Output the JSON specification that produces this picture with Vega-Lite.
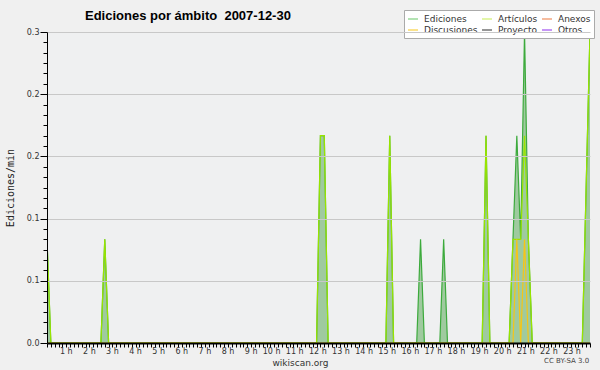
{
  "$schema": "https://vega.github.io/schema/vega-lite/v6.json",
  "width": 543,
  "height": 311,
  "autosize": {"type": "none"},
  "padding": {"left": 47, "top": 32, "right": 10, "bottom": 27},
  "background": "#f0f0f0",
  "config": {"view": {"stroke": null, "fill": "#eff0f1"}, "font": "DejaVu Sans"},
  "title": {
    "text": "Ediciones por ámbito\u00a0 2007-12-30",
    "anchor": "start",
    "frame": "group",
    "dx": 38,
    "dy": 23,
    "offset": 0,
    "baseline": "alphabetic",
    "font": "Liberation Sans",
    "fontSize": 13,
    "fontWeight": "bold",
    "color": "#000000"
  },
  "data": {
    "values": [
      {"m": 0, "s": "Ediciones", "v": 0.1}, {"m": 10, "s": "Ediciones", "v": 0},
      {"m": 140, "s": "Ediciones", "v": 0}, {"m": 150, "s": "Ediciones", "v": 0.1}, {"m": 160, "s": "Ediciones", "v": 0},
      {"m": 700, "s": "Ediciones", "v": 0}, {"m": 710, "s": "Ediciones", "v": 0.2}, {"m": 720, "s": "Ediciones", "v": 0.2}, {"m": 730, "s": "Ediciones", "v": 0},
      {"m": 880, "s": "Ediciones", "v": 0}, {"m": 890, "s": "Ediciones", "v": 0.2}, {"m": 900, "s": "Ediciones", "v": 0},
      {"m": 960, "s": "Ediciones", "v": 0}, {"m": 970, "s": "Ediciones", "v": 0.1}, {"m": 980, "s": "Ediciones", "v": 0},
      {"m": 1020, "s": "Ediciones", "v": 0}, {"m": 1030, "s": "Ediciones", "v": 0.1}, {"m": 1040, "s": "Ediciones", "v": 0},
      {"m": 1130, "s": "Ediciones", "v": 0}, {"m": 1140, "s": "Ediciones", "v": 0.2}, {"m": 1150, "s": "Ediciones", "v": 0},
      {"m": 1200, "s": "Ediciones", "v": 0}, {"m": 1210, "s": "Ediciones", "v": 0.1}, {"m": 1220, "s": "Ediciones", "v": 0.2}, {"m": 1230, "s": "Ediciones", "v": 0.1}, {"m": 1240, "s": "Ediciones", "v": 0.3}, {"m": 1250, "s": "Ediciones", "v": 0.1}, {"m": 1260, "s": "Ediciones", "v": 0},
      {"m": 1390, "s": "Ediciones", "v": 0}, {"m": 1400, "s": "Ediciones", "v": 0.15}, {"m": 1410, "s": "Ediciones", "v": 0.3},

      {"m": 0, "s": "Artículos", "v": 0.1}, {"m": 10, "s": "Artículos", "v": 0},
      {"m": 140, "s": "Artículos", "v": 0}, {"m": 150, "s": "Artículos", "v": 0.1}, {"m": 160, "s": "Artículos", "v": 0},
      {"m": 700, "s": "Artículos", "v": 0}, {"m": 710, "s": "Artículos", "v": 0.2}, {"m": 720, "s": "Artículos", "v": 0.2}, {"m": 730, "s": "Artículos", "v": 0},
      {"m": 880, "s": "Artículos", "v": 0}, {"m": 890, "s": "Artículos", "v": 0.2}, {"m": 900, "s": "Artículos", "v": 0},
      {"m": 1130, "s": "Artículos", "v": 0}, {"m": 1140, "s": "Artículos", "v": 0.2}, {"m": 1150, "s": "Artículos", "v": 0},
      {"m": 1200, "s": "Artículos", "v": 0}, {"m": 1210, "s": "Artículos", "v": 0.1}, {"m": 1220, "s": "Artículos", "v": 0.1}, {"m": 1230, "s": "Artículos", "v": 0.1}, {"m": 1240, "s": "Artículos", "v": 0.2}, {"m": 1250, "s": "Artículos", "v": 0.1}, {"m": 1260, "s": "Artículos", "v": 0},
      {"m": 1390, "s": "Artículos", "v": 0}, {"m": 1400, "s": "Artículos", "v": 0.15}, {"m": 1410, "s": "Artículos", "v": 0.3},

      {"m": 0, "s": "Discusiones", "v": 0}, {"m": 1210, "s": "Discusiones", "v": 0}, {"m": 1220, "s": "Discusiones", "v": 0.1}, {"m": 1230, "s": "Discusiones", "v": 0}, {"m": 1240, "s": "Discusiones", "v": 0.1}, {"m": 1250, "s": "Discusiones", "v": 0}, {"m": 1410, "s": "Discusiones", "v": 0}
    ]
  },
  "layer": [
    {
      "transform": [{"filter": "datum.s === 'Ediciones'"}],
      "mark": {"type": "area", "clip": true, "color": "#9fca9f", "opacity": 1},
      "encoding": {
        "x": {
          "field": "m",
          "type": "quantitative",
          "scale": {"domain": [0, 1410], "nice": false, "zero": false},
          "axis": {
            "tickCount": 141,
            "labelExpr": "datum.value % 60 == 0 && datum.value > 0 ? (datum.value / 60) + ' h' : ''",
            "labelOverlap": false,
            "labelFlush": false,
            "labelAlign": "right",
            "labelOffset": 2,
            "labelPadding": 0,
            "labelFontSize": 8,
            "labelColor": "#333333",
            "grid": false,
            "tickSize": 4,
            "tickColor": "#000000",
            "domainColor": "#000000",
            "domainWidth": 2,
            "zindex": 1,
            "title": "wikiscan.org",
            "titleFontSize": 9,
            "titleFontWeight": "normal",
            "titleColor": "#333333",
            "titleX": 253,
            "titleY": 22,
            "titleBaseline": "alphabetic"
          }
        },
        "y": {
          "field": "v",
          "type": "quantitative",
          "scale": {"domain": [0, 0.3], "nice": false},
          "axis": {
            "tickCount": 30,
            "labelExpr": "round(datum.value * 100) % 6 == 0 ? format(datum.value, '.1f') : ''",
            "labelOverlap": false,
            "labelFlush": false,
            "labelPadding": 1,
            "labelFontSize": 8,
            "labelColor": "#333333",
            "grid": true,
            "gridColor": "#c8c8c8",
            "gridOpacity": {"condition": {"test": "round(datum.value * 100) % 6 == 0", "value": 1}, "value": 0},
            "tickSize": {"condition": {"test": "round(datum.value * 100) % 6 == 0", "value": 7}, "value": 4},
            "tickColor": "#000000",
            "domainColor": "#000000",
            "domainWidth": 1,
            "zindex": 1,
            "title": "Ediciones/min",
            "titleFont": "DejaVu Sans Mono",
            "titleFontSize": 10,
            "titleFontWeight": "normal",
            "titleColor": "#222222",
            "titleX": -37,
            "titleY": 155.5,
            "titleAlign": "center",
            "titleBaseline": "middle"
          }
        }
      }
    },
    {
      "transform": [{"filter": "datum.s === 'Ediciones'"}],
      "mark": {"type": "line", "clip": true, "color": "#3caa3c", "strokeWidth": 1.2},
      "encoding": {"x": {"field": "m", "type": "quantitative"}, "y": {"field": "v", "type": "quantitative"}}
    },
    {
      "transform": [{"filter": "datum.s === 'Artículos'"}],
      "mark": {"type": "line", "clip": true, "color": "#98e400", "strokeWidth": 1.2},
      "encoding": {"x": {"field": "m", "type": "quantitative"}, "y": {"field": "v", "type": "quantitative"}}
    },
    {
      "transform": [{"filter": "datum.s === 'Discusiones'"}],
      "mark": {"type": "line", "clip": true, "color": "#f5c518", "strokeWidth": 1.2},
      "encoding": {"x": {"field": "m", "type": "quantitative"}, "y": {"field": "v", "type": "quantitative"}}
    },
    {
      "transform": [{"filter": "false"}],
      "mark": {"type": "line", "strokeWidth": 1.2},
      "encoding": {
        "x": {"field": "m", "type": "quantitative"},
        "y": {"field": "v", "type": "quantitative"},
        "color": {
          "field": "s",
          "type": "nominal",
          "scale": {
            "domain": ["Ediciones", "Discusiones", "Artículos", "Proyecto", "Anexos", "Otros"],
            "range": ["#80d080", "#f8d040", "#d0f070", "#505050", "#f09060", "#a050f0"]
          },
          "legend": {
            "orient": "none",
            "legendX": 357,
            "legendY": -22,
            "columns": 3,
            "title": null,
            "symbolType": "stroke",
            "symbolSize": 100,
            "symbolStrokeWidth": 1.2,
            "labelFont": "DejaVu Sans",
            "labelFontSize": 9,
            "labelColor": "#333333",
            "labelOffset": 5,
            "labelLimit": 120,
            "fillColor": "#ffffff",
            "strokeColor": "#aaaaaa",
            "padding": 3,
            "rowPadding": 0,
            "columnPadding": 1
          }
        }
      }
    },
    {
      "data": {"values": [{"label": "CC BY-SA 3.0"}]},
      "mark": {"type": "text", "align": "right", "baseline": "alphabetic", "dy": 20, "fontSize": 7, "color": "#444444", "font": "DejaVu Sans", "clip": false},
      "encoding": {
        "x": {"datum": 1408, "type": "quantitative"},
        "y": {"datum": 0, "type": "quantitative"},
        "text": {"field": "label"}
      }
    }
  ]
}
